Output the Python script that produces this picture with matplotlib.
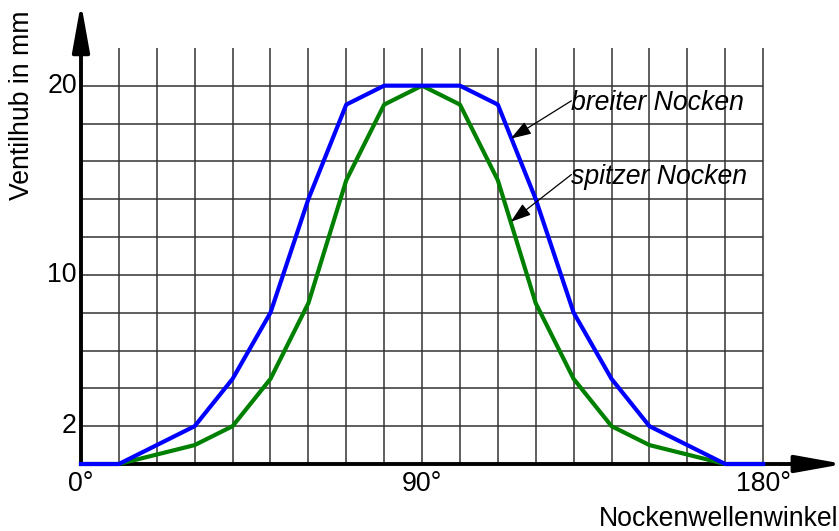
"""
Ventilhub over Nockenwellenwinkel, breiter vs. spitzer Nocken
"""
import matplotlib
matplotlib.use("Agg")
import matplotlib.pyplot as plt

plt.rcParams["font.family"] = ["Liberation Sans", "DejaVu Sans"]

# data
winkel = [0, 10, 20, 30, 40, 50, 60, 70, 80, 90, 100, 110, 120, 130, 140, 150, 160, 170, 180]
hub_breit = [0, 0, 1, 2, 4.5, 8, 14, 19, 20, 20, 20, 19, 14, 8, 4.5, 2, 1, 0, 0]
hub_spitz = [0, 0, 0.5, 1, 2, 4.5, 8.5, 15, 19, 20, 19, 15, 8.5, 4.5, 2, 1, 0.5, 0, 0]

x_ticks = [0, 90, 180]
x_ticklabels = ["0°", "90°", "180°"]
y_ticks = [2, 10, 20]
y_ticklabels = ["2", "10", "20"]

W, H = 839, 531
FS = 19.2

fig = plt.figure(figsize=(W / 100, H / 100), dpi=100)
# axes: x = 0 at pixel 81, arrow tip at 837; y = 0 at pixel 464, arrow tip at 10
ax = fig.add_axes([81 / W, (H - 464) / H, (837 - 81) / W, (464 - 10) / H])
ax.set_xlim(0, 199.5)
ax.set_ylim(0, 24.0)
ax.axis("off")

# grid
grid_col = "#333333"
ax.vlines(range(10, 181, 10), 0, 22, color=grid_col, lw=1.1, zorder=1)
ax.hlines(range(2, 21, 2), 0, 180, color=grid_col, lw=1.1, zorder=1)

# axis arrows (tips pushed out a bit, the arrow style pulls them back)
axis_arrow = dict(arrowstyle="-|>,head_length=1.45,head_width=0.26",
                  mutation_scale=20, lw=2.8, color="black",
                  shrinkA=0, shrinkB=0)
ax.annotate("", xy=(201.3, 0), xytext=(0, 0), arrowprops=axis_arrow,
            annotation_clip=False, zorder=2)
ax.annotate("", xy=(0, 24.37), xytext=(0, 0), arrowprops=axis_arrow,
            annotation_clip=False, zorder=2)

# curves, drawn over the axes
ax.plot(winkel, hub_spitz, color="#008000", lw=3, zorder=3, clip_on=False)
ax.plot(winkel, hub_breit, color="#0000ff", lw=3, zorder=4, clip_on=False)

# tick labels
for x, lab in zip(x_ticks, x_ticklabels):
    ax.annotate(lab, xy=(x, 0), xytext=(0, -5), textcoords="offset points",
                ha="center", va="top", fontsize=FS)
for y, lab in zip(y_ticks, y_ticklabels):
    ax.annotate(lab, xy=(0, y), xytext=(-3, 0), textcoords="offset points",
                ha="right", va="center", fontsize=FS)

# curve labels
small_arrow = dict(arrowstyle="-|>,head_length=0.9,head_width=0.3",
                   mutation_scale=14, lw=0.9, color="black",
                   shrinkA=0, shrinkB=0)
ax.annotate("", xy=(113.4, 17.2), xytext=(129.4, 19.2), arrowprops=small_arrow, zorder=6)
ax.annotate("", xy=(113.4, 12.8), xytext=(129.4, 15.3), arrowprops=small_arrow, zorder=6)
ax.text(129.4, 18.73, "breiter Nocken", fontsize=FS, style="italic",
        ha="left", va="baseline", zorder=6)
ax.text(129.4, 14.8, "spitzer Nocken", fontsize=FS, style="italic",
        ha="left", va="baseline", zorder=6)

# axis titles
fig.text(22 / W, 1 - 105 / H, "Ventilhub in mm", rotation=90,
         ha="center", va="center", fontsize=FS)
fig.text(838 / W, 1 - 519 / H, "Nockenwellenwinkel",
         ha="right", va="center", fontsize=FS)

fig.savefig("out.png", dpi=100)
